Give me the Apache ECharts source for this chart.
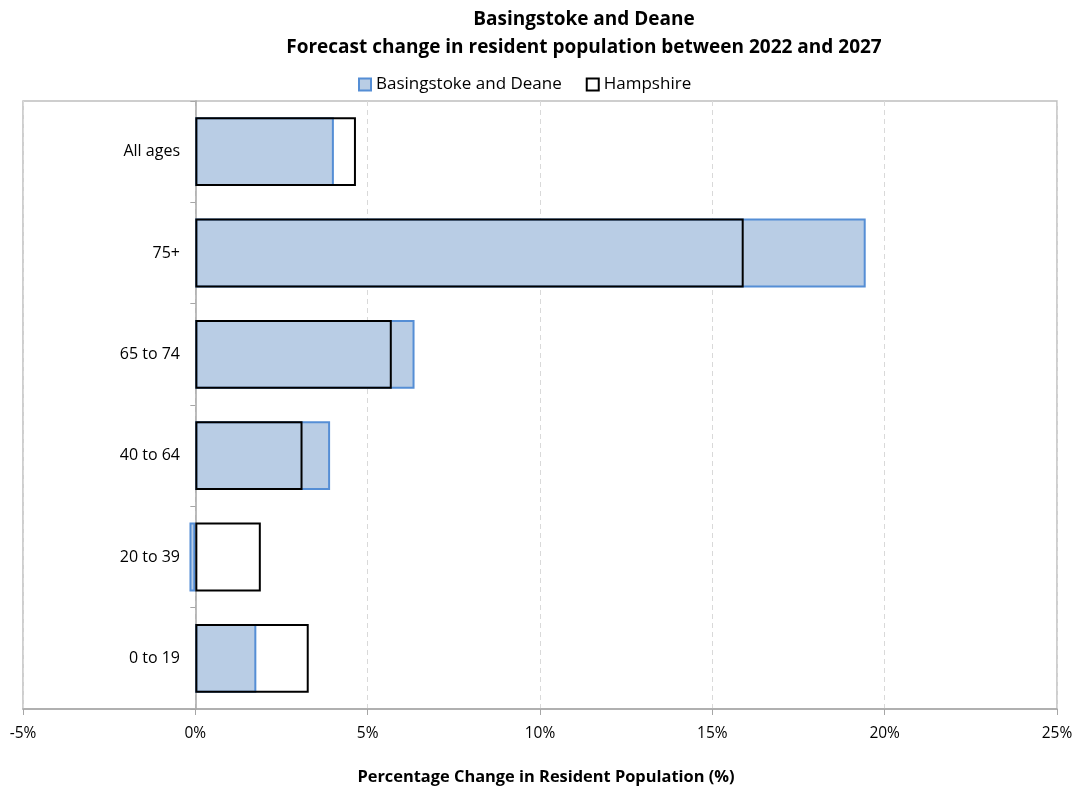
<!DOCTYPE html>
<html>
<head>
<meta charset="utf-8">
<script src="https://cdn.jsdelivr.net/npm/echarts@6/dist/echarts.min.js"></script>
<style>
  html, body { margin: 0; padding: 0; background: #ffffff; }
  #chart { width: 1078px; height: 787px; }
</style>
</head>
<body>
<div id="chart"></div>
<script>
// Age bands, listed bottom to top as the category axis draws them
const ageBands = ['0 to 19', '20 to 39', '40 to 64', '65 to 74', '75+', 'All ages'];

// Forecast % change in resident population, 2022 to 2027
const basingstokeChange = [1.77, -0.17, 3.91, 6.36, 19.45, 4.02];
const hampshireChange = [3.29, 1.90, 3.11, 5.70, 15.91, 4.66];

// Value-axis tick settings
const axisMin = -5;
const axisMax = 25;
const axisStep = 5;

const fontFamily = '"Open Sans", "Noto Sans", sans-serif';

const gridLeft = 23;
const zeroX = 196; // where the category axis line sits (value 0)

const chart = echarts.init(document.getElementById('chart'), null, { renderer: 'canvas' });

chart.setOption({
  animation: false,
  backgroundColor: '#ffffff',
  textStyle: { fontFamily: fontFamily },
  title: {
    text: 'Basingstoke and Deane\nForecast change in resident population between 2022 and 2027',
    // centred on x = 584
    left: 579,
    textAlign: 'center',
    top: 1,
    textStyle: {
      fontFamily: fontFamily,
      fontSize: 19,
      fontWeight: 'bold',
      color: '#000000',
      lineHeight: 28
    }
  },
  legend: {
    top: 71,
    left: 353,
    icon: 'rect',
    itemWidth: 12,
    itemHeight: 12,
    itemGap: 24,
    textStyle: { fontFamily: fontFamily, fontSize: 17, color: '#000000' },
    data: ['Basingstoke and Deane', 'Hampshire']
  },
  grid: {
    left: gridLeft,
    right: 21,
    top: 101,
    bottom: 78,
    show: true,
    borderColor: '#bfbfbf',
    borderWidth: 1.5,
    containLabel: false,
    outerBoundsMode: 'none'
  },
  xAxis: {
    type: 'value',
    min: axisMin,
    max: axisMax,
    interval: axisStep,
    name: 'Percentage Change in Resident Population (%)',
    nameLocation: 'middle',
    nameGap: 60,
    nameTextStyle: {
      fontFamily: fontFamily,
      fontSize: 16.4,
      fontWeight: 'bold',
      color: '#000000',
      padding: [0, 0, 0, 12]
    },
    axisLine: { show: true, lineStyle: { color: '#a6a6a6', width: 1.5 } },
    axisTick: { show: true, length: 6, lineStyle: { color: '#a6a6a6' } },
    axisLabel: {
      margin: 17,
      fontFamily: fontFamily,
      fontSize: 15.5,
      color: '#000000',
      formatter: v => v + '%'
    },
    splitLine: { show: true, lineStyle: { color: '#d9d9d9', type: [5, 4] } }
  },
  yAxis: {
    type: 'category',
    data: ageBands,
    axisLine: { show: true, onZero: true, lineStyle: { color: '#a6a6a6', width: 1.5 } },
    axisTick: { show: true, length: 5, lineStyle: { color: '#a6a6a6' } },
    // labels sit just left of the zero line
    axisLabel: { margin: gridLeft - (zeroX - 16), fontFamily: fontFamily, fontSize: 16, color: '#000000' },
    splitLine: { show: false }
  },
  series: [
    {
      name: 'Basingstoke and Deane',
      type: 'bar',
      data: basingstokeChange,
      barCategoryGap: '32%',
      barGap: '-100%',
      z: 2,
      itemStyle: { color: '#b9cde5', borderColor: '#558ed5', borderWidth: 2 }
    },
    {
      name: 'Hampshire',
      type: 'bar',
      data: hampshireChange,
      barCategoryGap: '32%',
      barGap: '-100%',
      z: 3,
      itemStyle: { color: 'rgba(255,255,255,0)', borderColor: '#000000', borderWidth: 2 }
    }
  ]
});
</script>
</body>
</html>
